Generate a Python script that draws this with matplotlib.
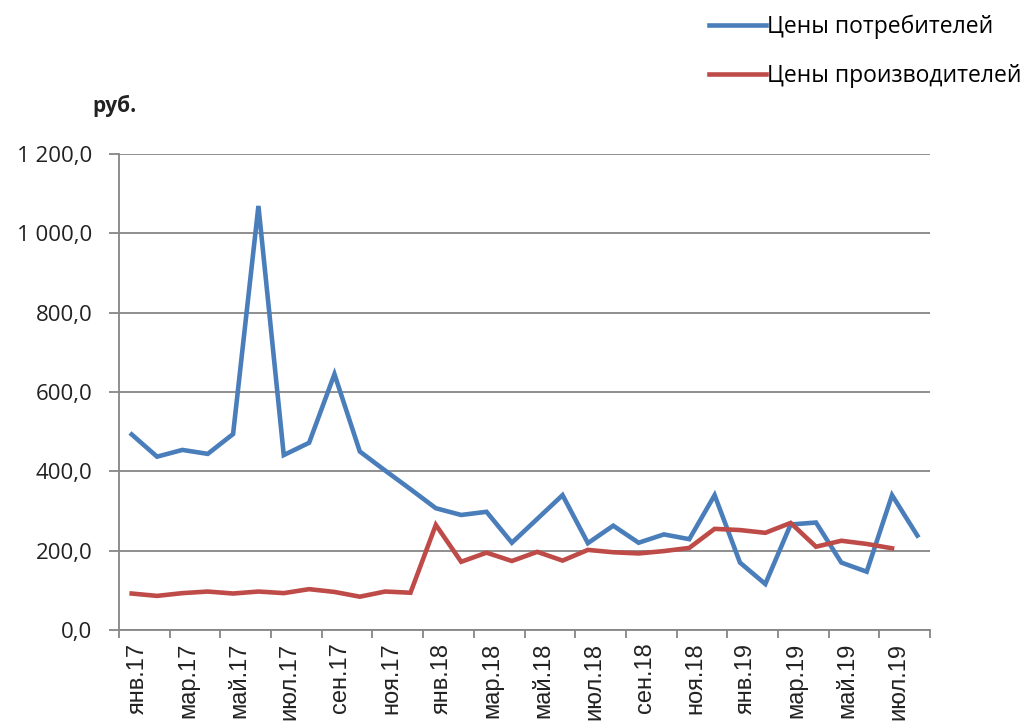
import matplotlib.pyplot as plt
from matplotlib.ticker import FixedLocator, FuncFormatter
from matplotlib.transforms import ScaledTranslation

months = ['янв', 'фев', 'мар', 'апр', 'май', 'июн',
          'июл', 'авг', 'сен', 'окт', 'ноя', 'дек']
periods = ['{}.{}'.format(m, y) for y in ('17', '18', '19') for m in months][:32]

consumer = [493, 437, 454, 444, 494, 1069, 441, 472, 645, 450, 402, 355,
            307, 290, 298, 220, 280, 340, 219, 263, 220, 241, 229, 340,
            170, 116, 266, 271, 170, 147, 340, 238]
producer = [92, 86, 93, 97, 92, 97, 93, 103, 96, 84, 97, 94,
            265, 172, 195, 174, 197, 175, 202, 196, 193, 199, 207, 255,
            252, 245, 270, 210, 225, 217, 206]

blue = '#4A7EBB'
red = '#BE4B48'
grid_gray = '#868686'


def rub_fmt(v, pos):
    s = '{:,.1f}'.format(v)
    return s.replace(',', ' ').replace('.', ',')


fig = plt.figure(figsize=(10.27, 7.27), dpi=100)
ax = fig.add_axes([0.1159, 0.1334, 0.7897, 0.6548])

ax.plot(range(len(consumer)), consumer, color=blue, lw=3.3,
        solid_joinstyle='miter', label='Цены потребителей')
ax.plot(range(len(producer)), producer, color=red, lw=3.3,
        solid_joinstyle='miter', label='Цены производителей')

ax.set_xlim(-0.5, len(periods) - 0.5)
ax.set_ylim(0, 1200)
ax.set_yticks(range(0, 1201, 200))
ax.yaxis.set_major_formatter(FuncFormatter(rub_fmt))
ax.grid(axis='y', color=grid_gray, lw=1.3)
ax.set_axisbelow(True)

# tick marks between categories, labels centred on every other month
ax.xaxis.set_major_locator(FixedLocator([i - 0.5 for i in range(0, len(periods) + 1, 2)]))
ax.xaxis.set_major_formatter(FuncFormatter(lambda v, p: ''))
ax.xaxis.set_minor_locator(FixedLocator(list(range(0, len(periods), 2))))
ax.set_xticklabels([periods[i] for i in range(0, len(periods), 2)], minor=True,
                   rotation=90, fontsize=17, family='Liberation Sans', color='#222222')
ax.tick_params(axis='x', which='major', length=6, color=grid_gray, width=1.3)
ax.tick_params(axis='x', which='minor', length=0, pad=9)
ax.tick_params(axis='y', length=7.2, color=grid_gray, width=1.3, pad=12,
               labelsize=16, labelcolor='#222222')
for lbl in ax.get_yticklabels():
    lbl.set_family('Open Sans')

# nudge the rotated month labels so the glyphs sit centred on the category
shift = ScaledTranslation(6 / 100, 0, fig.dpi_scale_trans)
for lbl in ax.get_xticklabels(minor=True):
    lbl.set_transform(lbl.get_transform() + shift)

for side in ('top', 'right'):
    ax.spines[side].set_visible(False)
for side in ('left', 'bottom'):
    ax.spines[side].set_color(grid_gray)
    ax.spines[side].set_linewidth(1.3)

fig.text(0.09, 0.855, 'руб.', fontsize=15, fontweight='bold',
         family='Open Sans', color='#222222', va='center')

fig.legend(loc='upper left', bbox_to_anchor=(709 / 1027, 1 - 15 / 727), frameon=False,
           handlelength=2.5, handletextpad=0.05, labelspacing=1.09,
           borderpad=0, borderaxespad=0,
           prop={'family': 'Open Sans', 'size': 16.5})

fig.savefig('out.png', dpi=100)
